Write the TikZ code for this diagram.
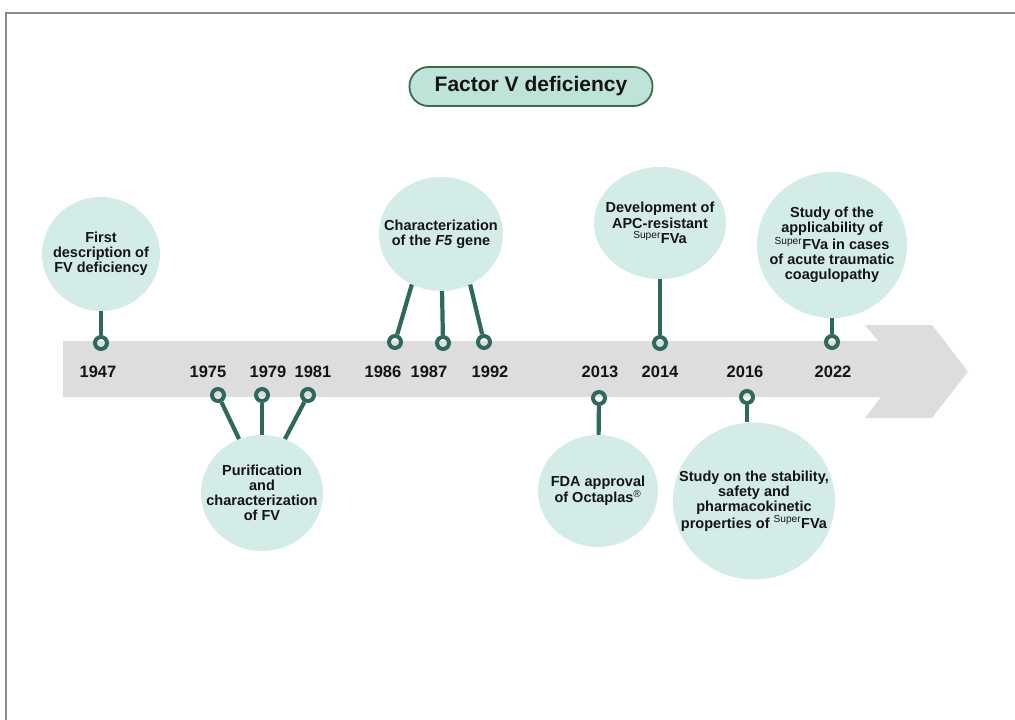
\documentclass[tikz,border=0pt]{standalone}
\usepackage{fontspec}
\setmainfont{Liberation Sans}
\usetikzlibrary{positioning,shapes.geometric}

\definecolor{bubblefill}{HTML}{D3ECE7}
\definecolor{titlefill}{HTML}{BEE3D9}
\definecolor{titleline}{HTML}{3E6B4C}
\definecolor{stemcol}{HTML}{2D6A5C}
\definecolor{barcol}{HTML}{DDDDDD}
\definecolor{framecol}{HTML}{8A8A8A}
\definecolor{textcol}{HTML}{141414}

\begin{document}
\begin{tikzpicture}[
        x=1pt,
        y=-1pt,
        title/.style={
            rectangle,
            draw=titleline,
            line width=1.8pt,
            fill=titlefill,
            rounded corners=19pt,
            minimum width=243pt,
            minimum height=39pt,
            text=textcol,
            font=\bfseries\fontsize{21}{24}\selectfont
        },
        bubble/.style={
            ellipse,
            fill=bubblefill,
            inner sep=0pt
        },
        btext/.style={
            align=center,
            text=textcol,
            font=\bfseries\fontsize{14.5}{15.2}\selectfont
        },
        ring/.style={
            circle,
            draw=stemcol,
            line width=4pt,
            minimum size=12pt,
            inner sep=0pt
        },
        stem/.style={
            draw=stemcol,
            line width=4.2pt
        },
        year/.style={
            text=textcol,
            font=\bfseries\fontsize{16.5}{18}\selectfont
        }
    ]
    \useasboundingbox (0,0) rectangle (1015,720);

    % Frame
    \draw[framecol, line width=2pt] (6,720) -- (6,13) -- (1015,13);

    % Title
    \node[title] (title) at (531,86.5) {Factor V deficiency};

    % Timeline arrow
    \fill[barcol] (63,341) -- (878,341) -- (865,325) -- (932,325) -- (968,371.5)
        -- (932,418) -- (865,418) -- (881,397) -- (63,397) -- cycle;

    % Years
    \node[year] (y1947) at (98,372) {1947};
    \node[year] (y1975) at (208,372) {1975};
    \node[year] (y1979) at (268,372) {1979};
    \node[year] (y1981) at (313,372) {1981};
    \node[year] (y1986) at (383,372) {1986};
    \node[year] (y1987) at (429,372) {1987};
    \node[year] (y1992) at (490,372) {1992};
    \node[year] (y2013) at (600,372) {2013};
    \node[year] (y2014) at (660,372) {2014};
    \node[year] (y2016) at (745,372) {2016};
    \node[year] (y2022) at (833,372) {2022};

    % Rings on the arrow
    \node[ring] (r1947) at (101,343) {};
    \node[ring] (r1975) at (218,395) {};
    \node[ring] (r1979) at (262,395) {};
    \node[ring] (r1981) at (308,395) {};
    \node[ring] (r1986) at (395,342) {};
    \node[ring] (r1987) at (443,343) {};
    \node[ring] (r1992) at (484,342) {};
    \node[ring] (r2013) at (599,398) {};
    \node[ring] (r2014) at (660,343) {};
    \node[ring] (r2016) at (747,397) {};
    \node[ring] (r2022) at (832,342) {};

    % Events above the arrow
    \node[bubble, minimum width=118pt, minimum height=114pt,
        label={[btext]center:First\\description of\\FV deficiency}] (b1947) at (101,254) {};
    \node[bubble, minimum width=124pt, minimum height=114pt,
        label={[btext]center:Characterization\\of the \textit{F5} gene}] (bf5) at (441,234) {};
    \node[bubble, minimum width=132pt, minimum height=112pt,
        label={[btext]center:Development of\\APC-resistant\\\textsuperscript{\mdseries Super}FVa}] (b2014) at (660,223) {};
    \node[bubble, minimum width=150pt, minimum height=146pt,
        label={[btext]center:Study of the\\applicability of\\\textsuperscript{\mdseries Super}FVa in cases\\of acute traumatic\\coagulopathy}] (b2022) at (832,245) {};

    % Events below the arrow
    \node[bubble, minimum width=122pt, minimum height=116pt,
        label={[btext]center:Purification\\and\\characterization\\of FV}] (bpur) at (262,493) {};
    \node[bubble, minimum width=120pt, minimum height=112pt,
        label={[btext]center:FDA approval\\of Octaplas\textsuperscript{\mdseries ®}}] (b2013) at (598,491) {};
    \node[bubble, minimum width=162pt, minimum height=157pt,
        label={[btext]center:Study on the stability,\\safety and\\pharmacokinetic\\properties of \textsuperscript{\mdseries Super}FVa}] (b2016) at (754,501) {};

    % Stems
    \draw[stem] (r1947) -- (b1947);
    \draw[stem] (r1975) -- (bpur.113);
    \draw[stem] (r1979) -- (bpur);
    \draw[stem] (r1981) -- (bpur.67);
    \draw[stem] (r1986) -- (bf5.240);
    \draw[stem] (r1987) -- (bf5);
    \draw[stem] (r1992) -- (bf5.300);
    \draw[stem] (r2013) -- (b2013);
    \draw[stem] (r2014) -- (b2014);
    \draw[stem] (r2016) -- (r2016 |- b2016.north);
    \draw[stem] (r2022) -- (b2022);

\end{tikzpicture}
\end{document}
